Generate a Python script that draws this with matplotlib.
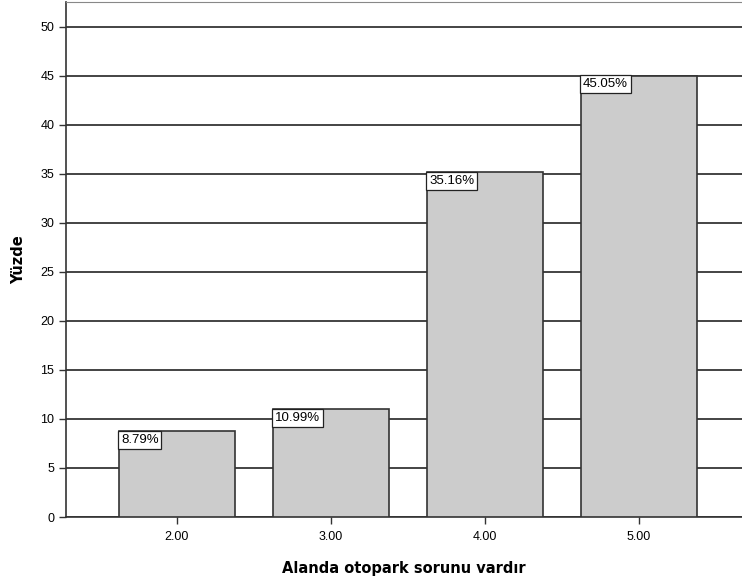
import numpy as np
import matplotlib
matplotlib.use("Agg")
import matplotlib.pyplot as plt

plt.rcParams['font.family'] = ['Liberation Sans', 'DejaVu Sans']

categories = ["2.00", "3.00", "4.00", "5.00"]
percent = [8.79, 10.99, 35.16, 45.05]
yticks = [0, 5, 10, 15, 20, 25, 30, 35, 40, 45, 50]

fig = plt.figure(figsize=(7.42, 5.81), dpi=100)
ax = fig.add_axes([66/742, 64/581, 1 - 66/742, (517-2)/581])

x = np.arange(len(categories))
width = 0.753
ax.set_axisbelow(True)
ax.yaxis.grid(True, color='#111111', linewidth=1.1)
bars = ax.bar(x, percent, width=width, color='#cccccc', edgecolor='#333333', linewidth=1.2, zorder=3)

# value boxes sit in the top-left corner of each bar
for xi, v in zip(x, percent):
    ax.text(xi - width/2 + 0.013, v - 0.28, f"{v:.2f}%", ha='left', va='top', fontsize=9.5, zorder=4,
            bbox=dict(boxstyle='square,pad=0.22', facecolor='white', edgecolor='#222222', linewidth=0.9))

ax.set_xlim(-0.72, 3 + (742-639)/154)
ax.set_ylim(0, 52.55)
ax.set_xticks(x)
ax.set_xticklabels(categories, fontsize=9)
ax.set_yticks(yticks)
ax.set_yticklabels([str(t) for t in yticks], fontsize=9)
ax.tick_params(axis='both', direction='out', length=5, width=1, color='#333333')
ax.tick_params(axis='x', pad=5)

for side in ['left', 'bottom']:
    ax.spines[side].set_color('#333333')
    ax.spines[side].set_linewidth(1.2)
ax.spines['top'].set_color('#888888')
ax.spines['right'].set_visible(False)

ax.set_ylabel("Yüzde", fontsize=10.5, fontweight='bold', family='DejaVu Sans', labelpad=10)
ax.set_xlabel("Alanda otopark sorunu vardır", fontsize=10.5, fontweight='bold', family='DejaVu Sans', labelpad=13)

fig.savefig("out.png", dpi=100)
